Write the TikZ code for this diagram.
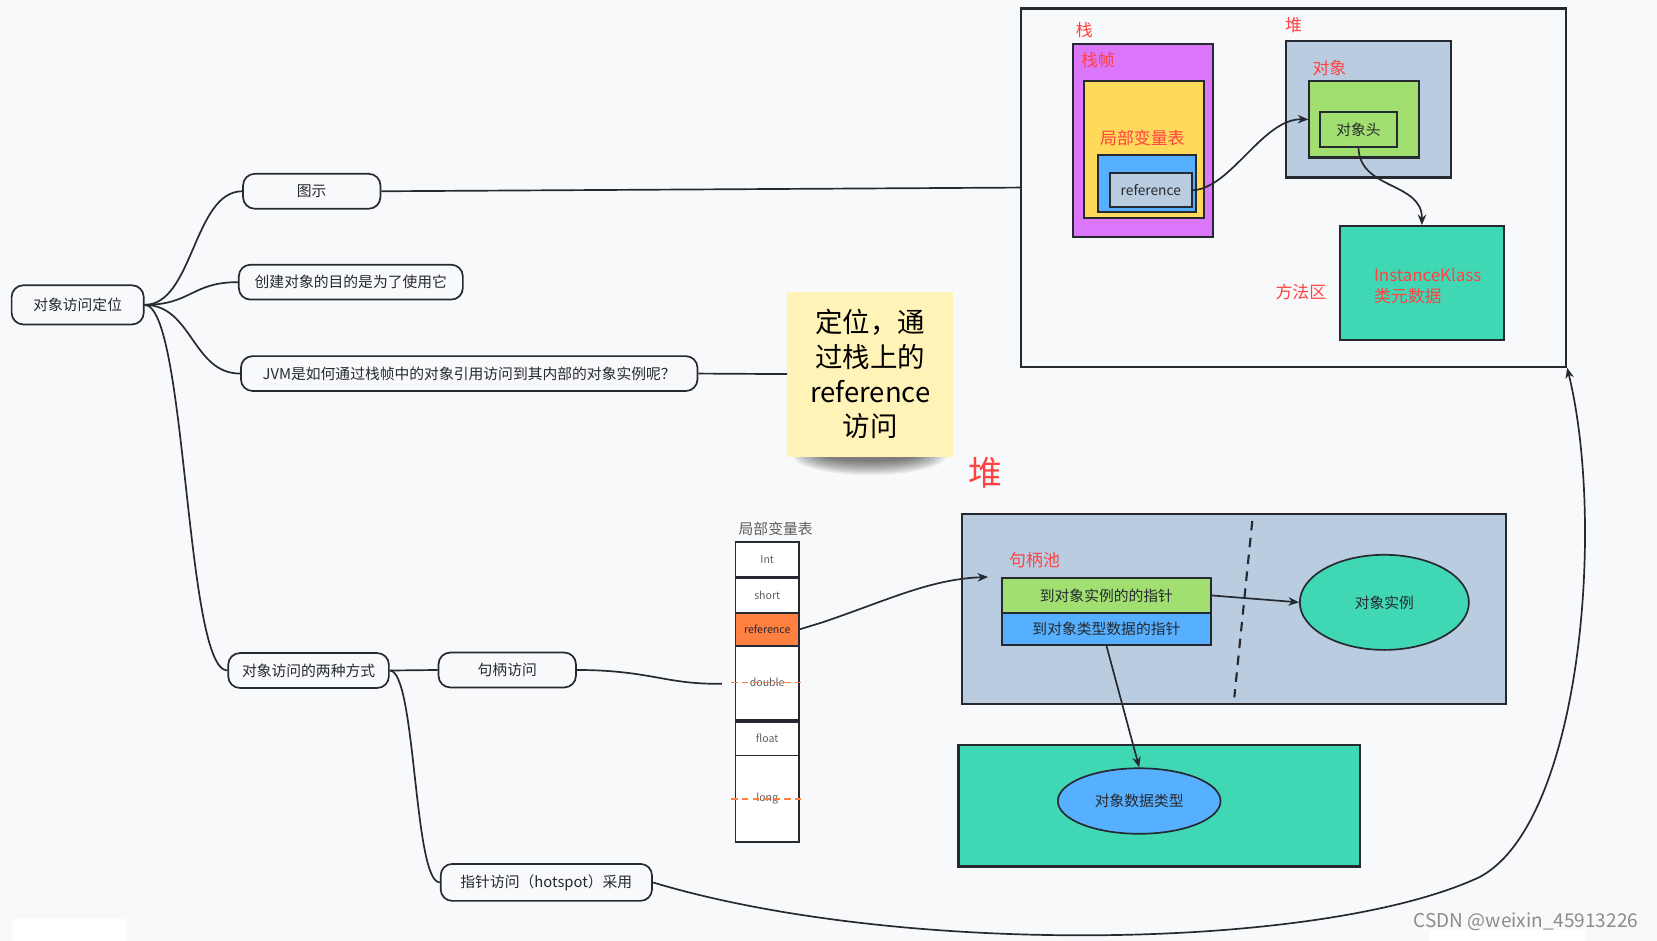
\documentclass[tikz,border=0pt]{standalone}
\usepackage{fontspec}
\setmainfont{Noto Sans CJK SC}
\usetikzlibrary{positioning,arrows.meta,shapes.geometric}

\definecolor{bgcol}{RGB}{248,249,251}
\definecolor{inkcol}{RGB}{38,41,48}
\definecolor{redcol}{RGB}{255,66,66}
\definecolor{purplecol}{RGB}{220,118,250}
\definecolor{yellowcol}{RGB}{255,217,90}
\definecolor{bluecol}{RGB}{87,176,255}
\definecolor{slatecol}{RGB}{185,204,224}
\definecolor{greencol}{RGB}{161,224,112}
\definecolor{tealcol}{RGB}{64,216,180}
\definecolor{orangecol}{RGB}{255,128,64}
\definecolor{notecol}{RGB}{255,243,184}
\definecolor{cellink}{RGB}{95,95,95}

\tikzset{
  mind/.style={draw=inkcol, line width=1.6pt, fill=bgcol, rounded corners=11pt,
    minimum height=33, inner sep=0pt, font=\fontsize{14}{17}\selectfont, text=inkcol},
  link/.style={draw=inkcol, line width=1.6pt},
  arrowlink/.style={link, -{Stealth[length=10pt,width=8pt]}},
  area/.style={draw=inkcol, line width=2pt, inner sep=0pt},
  redlabel/.style={text=redcol, font=\fontsize{16}{20}\selectfont, inner sep=0pt},
  plain/.style={inner sep=0pt, font=\fontsize{14}{17}\selectfont, text=inkcol},
  cell/.style={draw=inkcol, line width=1.6pt, fill=white, minimum width=60, inner sep=0pt,
    text=cellink, font=\fontsize{10}{12}\selectfont},
}

\begin{document}
\begin{tikzpicture}[x=1pt,y=-1pt]
\fill[bgcol] (0,0) rectangle (1568,890);
\useasboundingbox (0,0) rectangle (1568,890);
\fill[white] (11,870) rectangle (120,890);
\fill[white] (1352,880) rectangle (1500,890);

% mind map
\node[mind, minimum width=125, minimum height=37] (root) at (73.5,288.5) {对象访问定位};
\node[mind, minimum width=130] (tushi) at (295,181) {图示};
\node[mind, minimum width=212] (purpose) at (332,267) {创建对象的目的是为了使用它};
\node[mind, minimum width=432] (jvm) at (444,353.5) {JVM是如何通过栈帧中的对象引用访问到其内部的对象实例呢？};
\node[mind, minimum width=152] (ways) at (292,634.5) {对象访问的两种方式};
\node[mind, minimum width=130] (handle) at (480,634) {句柄访问};
\node[mind, minimum width=200, minimum height=35] (pointer) at (517,835) {指针访问（hotspot）采用};

\draw[link] (root.east) .. controls +(46,0) and +(-46,0) .. (tushi.west);
\draw[link] (root.east) .. controls +(44,0) and +(-44,0) .. (purpose.west);
\draw[link] (root.east) .. controls +(45,0) and +(-45,0) .. (jvm.west);
\draw[link] (root.east) .. controls +(40,0) and +(-40,0) .. (ways.west);
\draw[link] (ways.east) -- (handle.west);
\draw[link] (ways.east) .. controls +(25,0) and +(-25,0) .. (pointer.west);

% diagram frame
\node[area, fill=bgcol, minimum width=516, minimum height=339] (diag) at (1224,177.5) {};
\draw[link] (tushi.east) -- (diag.west);

\node[redlabel] (stacklbl) at (1026,28) {栈};
\node[area, fill=purplecol, minimum width=133, minimum height=182] (frame) at (1081.5,133) {};
\node[redlabel] (framelbl) at (1039,57) {栈帧};
\node[area, fill=yellowcol, minimum width=113, minimum height=129] (locals) at (1082.5,141.5) {};
\node[redlabel] (localslbl) at (1081,131) {局部变量表};
\node[area, fill=bluecol, minimum width=93, minimum height=54] (slot) at (1085.5,174) {};
\node[area, fill=slatecol, minimum width=78, minimum height=32, text=inkcol,
  font=\fontsize{13}{15}\selectfont] (ref) at (1089,180) {reference};

\node[redlabel] (heaplbl) at (1224,24) {堆};
\node[area, fill=slatecol, minimum width=156, minimum height=129] (heap) at (1295,103.5) {};
\node[redlabel] (objlbl) at (1258,64) {对象};
\node[area, fill=greencol, minimum width=104, minimum height=72] (obj) at (1291,113) {};
\node[area, fill=greencol, minimum width=73, minimum height=33, text=inkcol,
  font=\fontsize{14}{17}\selectfont] (header) at (1285.5,122.5) {对象头};

\node[redlabel] (methodlbl) at (1231,276) {方法区};
\node[area, fill=tealcol, minimum width=155, minimum height=108] (method) at (1345.5,268) {};
\node[redlabel, align=left, anchor=west] (klass) at (1300,271) {InstanceKlass\\类元数据};

\draw[arrowlink] (ref.east) .. controls (1165,178) and (1195,112) .. (obj.west);
\draw[arrowlink] (header.south) .. controls (1287,180) and (1346,172) .. (method.north);

% note
\foreach \k in {1,...,9}
  \fill[black, opacity=0.07] (823,431) ellipse ({76-3.5*\k} and {20-1.6*\k});
\node[fill=notecol, minimum width=157, minimum height=156, inner sep=0pt, align=center,
  font=\fontsize{26}{33}\selectfont] (note) at (823.5,354) {定位，通\\过栈上的\\reference\\访问};
\draw[link] (jvm.east) -- (note.west);

\node[text=redcol, inner sep=0pt, font=\fontsize{32}{36}\selectfont] (bigheap) at (932,447) {堆};

% local variable table
\node[plain, text=cellink] (tbllbl) at (734,500) {局部变量表};
\node[cell, minimum height=33] (cint) at (726,529.5) {Int};
\node[cell, minimum height=33] (cshort) at (726,563.5) {short};
\node[cell, minimum height=31, fill=orangecol, text=inkcol] (cref) at (726,595.5) {reference};
\node[cell, minimum height=70] (cdouble) at (726,646) {double};
\node[cell, minimum height=32] (cfloat) at (726,699) {float};
\node[cell, minimum height=82] (clong) at (726,756) {long};
\foreach \c in {cdouble,clong}
  \draw[orangecol, line width=1.5pt, dash pattern=on 6pt off 4pt]
    ([xshift=-3pt]\c.west) -- ([xshift=3pt]\c.east);

\coordinate (tblin) at (683,647);
\draw[link] (handle.east) .. controls (615,634) and (630,648) .. (tblin);

% handle pool
\node[area, fill=slatecol, minimum width=515, minimum height=180] (pool) at (1167.5,576) {};
\node[redlabel] (poollbl) at (979,530) {句柄池};
\draw[inkcol, line width=2pt, dash pattern=on 9pt off 7pt] (1185,493) -- (1168,660);
\node[area, fill=greencol, minimum width=198, minimum height=33, text=inkcol,
  font=\fontsize{14}{17}\selectfont] (pinst) at (1047,563.5) {到对象实例的的指针};
\node[area, fill=bluecol, minimum width=198, minimum height=30, text=inkcol,
  font=\fontsize{14}{17}\selectfont] (ptype) at (1047,595) {到对象类型数据的指针};
\node[ellipse, draw=inkcol, line width=1.6pt, fill=tealcol, minimum width=160, minimum height=90,
  inner sep=0pt, font=\fontsize{14}{17}\selectfont, text=inkcol] (inst) at (1310,570) {对象实例};

\node[area, fill=tealcol, minimum width=380, minimum height=115] (klassarea) at (1097,762.5) {};
\node[ellipse, draw=inkcol, line width=1.6pt, fill=bluecol, minimum width=154, minimum height=62,
  inner sep=0pt, font=\fontsize{14}{17}\selectfont, text=inkcol] (typeell) at (1078,758) {对象数据类型};

\coordinate (poolin) at (935,546);
\draw[arrowlink] (cref.east) -- (778,589) .. controls (840,568) and (880,548) .. (poolin);
\draw[arrowlink] (pinst.east) -- (inst.west);
\draw[arrowlink] (ptype.south) -- (typeell.north);

% direct pointer
\draw[arrowlink] (pointer.east) .. controls (850,905) and (1250,900) .. (1400,830)
  .. controls (1495,780) and (1520,500) .. (diag.south east);

\node[inner sep=0pt, text=black!45, font=\fontsize{18}{21}\selectfont] (mark) at (1444,872) {CSDN @weixin\_45913226};
\end{tikzpicture}
\end{document}
